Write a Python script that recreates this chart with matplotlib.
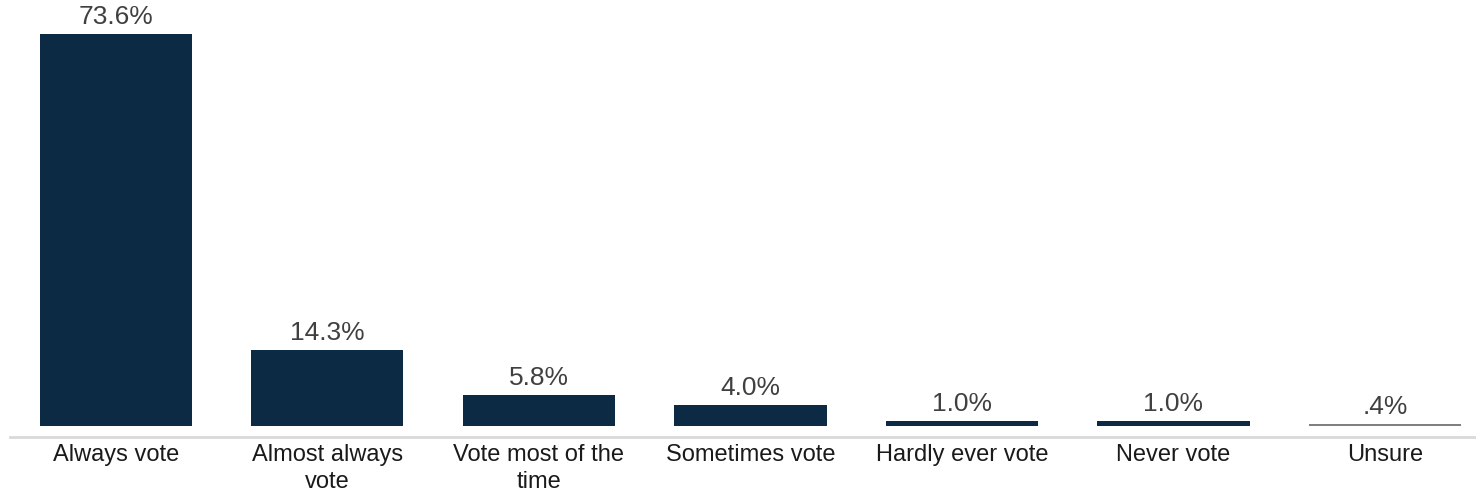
import matplotlib
matplotlib.use("Agg")
import matplotlib.pyplot as plt

categories = ["Always vote", "Almost always\nvote", "Vote most of the\ntime", "Sometimes vote",
              "Hardly ever vote", "Never vote", "Unsure"]
values = [73.6, 14.3, 5.8, 4.0, 1.0, 1.0, 0.4]
labels = ["73.6%", "14.3%", "5.8%", "4.0%", "1.0%", "1.0%", ".4%"]
colors = ["#0d2a45"] * 6 + ["#808080"]

plt.rcParams['font.family'] = ['Liberation Sans', 'DejaVu Sans']

fig = plt.figure(figsize=(14.76, 4.92), dpi=100)
ax = fig.add_axes([10/1476, 1 - 437/492, 1 - 10/1476, 437/492])

x = list(range(len(categories)))
ax.bar(x, values, width=0.72, color=colors)
for xi, v, lab in zip(x, values, labels):
    ax.annotate(lab, (xi, v), xytext=(0, 3.5), textcoords="offset points",
                ha="center", va="bottom", fontsize=19, color="#404040")

ax.set_xlim(-0.5, 6.43)
ax.set_ylim(-2.06, 80)
ax.set_xticks(x)
ax.set_xticklabels(categories, fontsize=17, color="#1a1a1a", linespacing=1.3)
ax.tick_params(axis="x", length=0, pad=5)
ax.set_yticks([])
for s in ["top", "left", "right"]:
    ax.spines[s].set_visible(False)
ax.spines["bottom"].set_color("#d9d9d9")
ax.spines["bottom"].set_linewidth(2)

fig.savefig("out.png", dpi=100)
